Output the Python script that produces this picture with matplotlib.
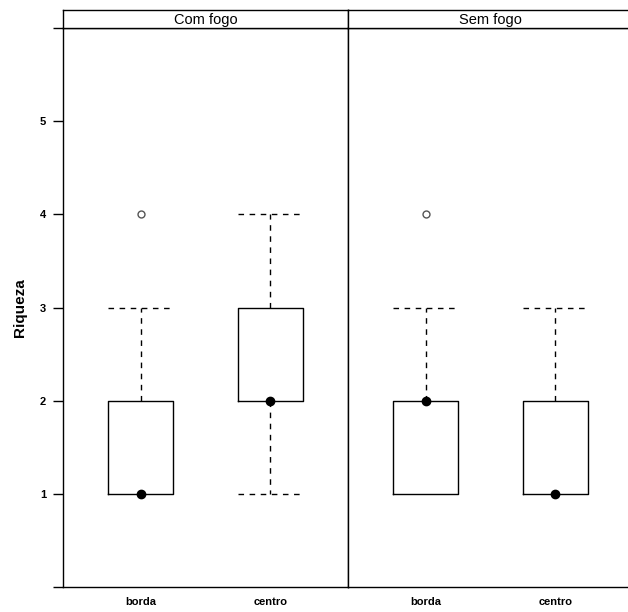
import matplotlib
matplotlib.use("Agg")
import matplotlib.pyplot as plt

plt.rcParams['font.family'] = ['Liberation Sans', 'DejaVu Sans']

panels = ['Com fogo', 'Sem fogo']
groups = ['borda', 'centro']
# per panel, per group: whisker low, q1, median, q3, whisker high
wlo = [[1, 1], [1, 1]]
q1 = [[1, 2], [1, 1]]
med = [[1, 2], [2, 1]]
q3 = [[2, 3], [2, 2]]
whi = [[3, 4], [3, 3]]
outliers = [[[4], []], [[4], []]]

W, H = 628, 612
fig = plt.figure(figsize=(W / 100, H / 100), dpi=100)

px = lambda x0, y0, x1, y1: [x0 / W, 1 - y1 / H, (x1 - x0) / W, (y1 - y0) / H]

lefts = [63, 348]
pw = 285
for p in range(2):
    ax = fig.add_axes(px(lefts[p], 28, lefts[p] + pw, 587))
    st = fig.add_axes(px(lefts[p], 10, lefts[p] + pw, 28))
    stats = []
    for g in range(2):
        stats.append(dict(whislo=wlo[p][g], q1=q1[p][g], med=med[p][g],
                          q3=q3[p][g], whishi=whi[p][g], fliers=outliers[p][g]))
    res = ax.bxp(stats, positions=[1, 2], widths=0.5, showfliers=True,
                 boxprops=dict(color='black', lw=1.0),
                 whiskerprops=dict(color='black', lw=1.0, linestyle=(0, (4, 4))),
                 capprops=dict(color='black', lw=1.0, linestyle=(0, (4, 4))),
                 capwidths=0.5,
                 medianprops=dict(visible=False),
                 flierprops=dict(marker='o', markersize=5, markerfacecolor='none',
                                 markeredgecolor='#555555', markeredgewidth=1.0))
    # no lower whisker/cap when it coincides with the box
    for g in range(2):
        if wlo[p][g] == q1[p][g]:
            res['caps'][2 * g].set_visible(False)
            res['whiskers'][2 * g].set_visible(False)
        if whi[p][g] == q3[p][g]:
            res['caps'][2 * g + 1].set_visible(False)
            res['whiskers'][2 * g + 1].set_visible(False)
    for b in res['boxes']:
        b.set_zorder(4)
    ax.plot([1, 2], med[p], 'o', color='black', markersize=6, zorder=5)
    ax.set_xlim(0.4, 2.6)
    ax.set_ylim(0, 6)
    ax.set_xticks([1, 2])
    ax.set_xticklabels(groups, fontsize=8, fontweight='bold')
    ax.tick_params(axis='x', length=0, pad=7)
    for s in ax.spines.values():
        s.set_linewidth(1.0)
    if p == 0:
        ax.set_yticks([0, 1, 2, 3, 4, 5, 6])
        ax.set_yticklabels(['', '1', '2', '3', '4', '5', ''], fontsize=8,
                           fontweight='bold')
        ax.tick_params(axis='y', length=7, width=1.0, pad=5)
        ax.set_ylabel('Riqueza', fontsize=11, fontweight='bold', va='center')
        ax.yaxis.set_label_coords(-0.151, 0.5)
    else:
        ax.set_yticks([])
    st.set_xticks([])
    st.set_yticks([])
    for s in st.spines.values():
        s.set_linewidth(1.0)
    st.text(0.5, 0.45, panels[p], ha='center', va='center', fontsize=10.5,
            family=['Liberation Sans Narrow', 'Liberation Sans'])

fig.savefig('out.png', dpi=100)
